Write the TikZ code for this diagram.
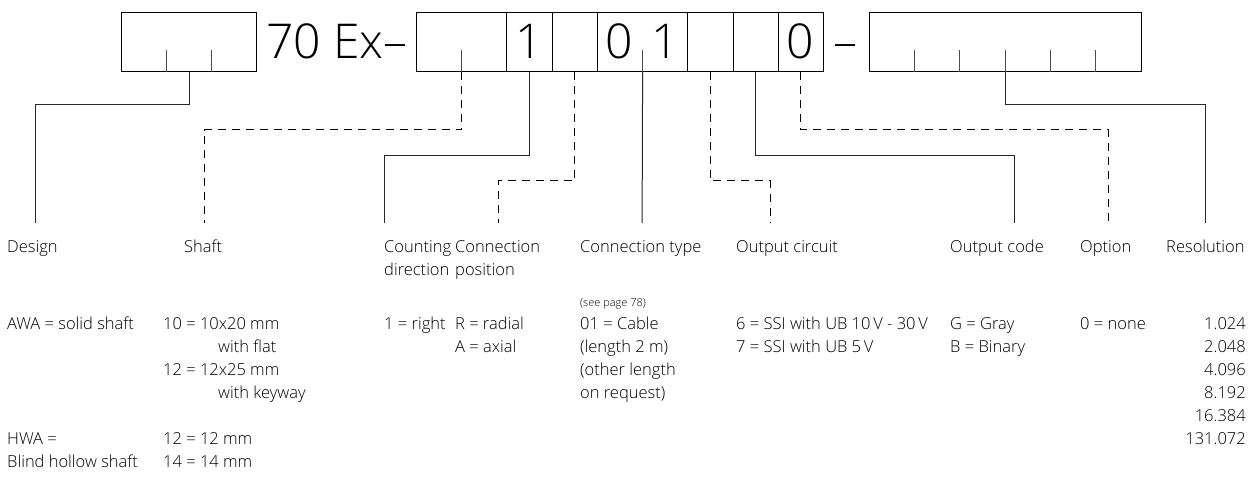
\documentclass[tikz,border=0pt]{standalone}
\usepackage{fontspec}
\IfFontExistsTF{Open Sans Light}{\setmainfont{Open Sans Light}}{\setmainfont{Open Sans}}
\begin{document}
\begin{tikzpicture}[x=1pt,y=-1pt,
  codebox/.style={draw=black,line width=1pt,inner sep=0pt,minimum height=59pt,anchor=north west},
  cell/.style={codebox,minimum width=45.22pt},
  dcell/.style={codebox,minimum width=90.44pt},
  tickmark/.style={draw=black!70,line width=0.9pt},
  solidlink/.style={draw=black!85,line width=1pt},
  dashlink/.style={draw=black,line width=1pt,dash pattern=on 8pt off 6pt},
  bigtxt/.style={inner sep=0pt,anchor=base,font=\fontsize{48}{48}\selectfont},
  lbl/.style={inner sep=0pt,anchor=base west,align=left,font=\fontsize{16.5}{23}\selectfont},
  smalllbl/.style={inner sep=0pt,anchor=base west,font=\fontsize{11}{13}\selectfont}
]
\useasboundingbox (0,0) rectangle (1258,481);

% ---- boxes
\node[codebox,minimum width=135pt] (b1) at (121,12) {};
\draw[tickmark] (b1.south west) ++(45,0) -- ++(0,-22);
\draw[tickmark] (b1.south west) ++(90,0) -- ++(0,-22);

\node[bigtxt,anchor=base east] (title) at (408,59) {70 Ex–};

\node[dcell] (c12) at (416,12) {};
\node[cell]  (c3)  at (506.44,12) {};
\node[cell]  (c4)  at (551.66,12) {};
\node[dcell] (c56) at (596.88,12) {};
\node[cell]  (c7)  at (687.32,12) {};
\node[cell]  (c8)  at (732.54,12) {};
\node[cell]  (c9)  at (777.76,12) {};
\draw[tickmark] (c12.south) -- ++(0,-22);
\draw[tickmark] (c56.south) -- ++(0,-22);

\node[bigtxt] (d3) at (529.05,59) {1};
\node[bigtxt] (d5) at (619.5,59) {0};
\node[bigtxt] (d6) at (664.7,59) {1};
\node[bigtxt] (d9) at (800.4,59) {0};

\node[bigtxt] (dash) at (845.5,59) {–};

\node[codebox,minimum width=272pt] (b3) at (869,12) {};
\foreach \k in {1,...,5}{
  \draw[tickmark] (b3.south west) ++(45.333*\k,0) -- ++(0,-22);
}

% ---- connector ends
\coordinate (eDesign) at (35,223);
\coordinate (eShaft)  at (204,223);
\coordinate (eCount)  at (384,223);
\coordinate (ePos)    at (498,223);
\coordinate (eType)   at (642.1,223);
\coordinate (eCirc)   at (770,223);
\coordinate (eCode)   at (1014,223);
\coordinate (eOpt)    at (1108,223);
\coordinate (eRes)    at (1205,223);

% ---- connectors
\draw[solidlink] (b1.south) -- ++(0,33) -| (eDesign);
\draw[dashlink]  (c12.south) -- ++(0,58) -| (eShaft);
\draw[solidlink] (c3.south) -- ++(0,84) -| (eCount);
\draw[dashlink]  (c4.south) -- ++(0,109) -| (ePos);
\draw[solidlink] (c56.south) -- (eType);
\draw[dashlink]  (c7.south) -- ++(0,109) -| (eCirc);
\draw[solidlink] (c8.south) -- ++(0,84) -| (eCode);
\draw[dashlink]  (c9.south) -- ++(0,58) -| (eOpt);
\draw[solidlink] (b3.south) -- ++(0,33) -| (eRes);

% ---- headings (anchor = baseline of the last line)
\node[lbl] (hDesign) at (7,252) {Design};
\node[lbl] (hShaft)  at (184,252) {Shaft};
\node[lbl] (hCount)  at (384,275) {Counting\\direction};
\node[lbl] (hPos)    at (455,275) {Connection\\position};
\node[lbl] (hType)   at (580,252) {Connection type};
\node[lbl] (hCirc)   at (736,252) {Output circuit};
\node[lbl] (hCode)   at (950,252) {Output code};
\node[lbl] (hOpt)    at (1080,252) {Option};
\node[lbl] (hRes)    at (1166,252) {Resolution};

\node[smalllbl] (see) at (580,306) {(see page 78)};

% ---- values
\node[lbl] (vDesignA) at (7,329.5) {AWA = solid shaft};
\node[lbl] (vDesignH) at (7,467.5) {HWA =\\Blind hollow shaft};
\node[lbl] (vShaftA)  at (163,398.5) {10 = 10x20 mm\\\hspace*{55pt}with flat\\12 = 12x25 mm\\\hspace*{55pt}with keyway};
\node[lbl] (vShaftH)  at (163,467.5) {12 = 12 mm\\14 = 14 mm};
\node[lbl] (vCount)   at (384,329.5) {1 = right};
\node[lbl] (vPos)     at (455,352.5) {R = radial\\A = axial};
\node[lbl] (vType)    at (580,398.5) {01 = Cable\\(length 2 m)\\(other length\\on request)};
\node[lbl] (vCirc)    at (736,352.5) {6 = SSI with UB 10\,V - 30\,V\\7 = SSI with UB 5\,V};
\node[lbl] (vCode)    at (950,352.5) {G = Gray\\B = Binary};
\node[lbl] (vOpt)     at (1080,329.5) {0 = none};
\node[lbl,anchor=base east,align=right] (vRes) at (1246,444.5) {1.024\\2.048\\4.096\\8.192\\16.384\\131.072};
\end{tikzpicture}
\end{document}
